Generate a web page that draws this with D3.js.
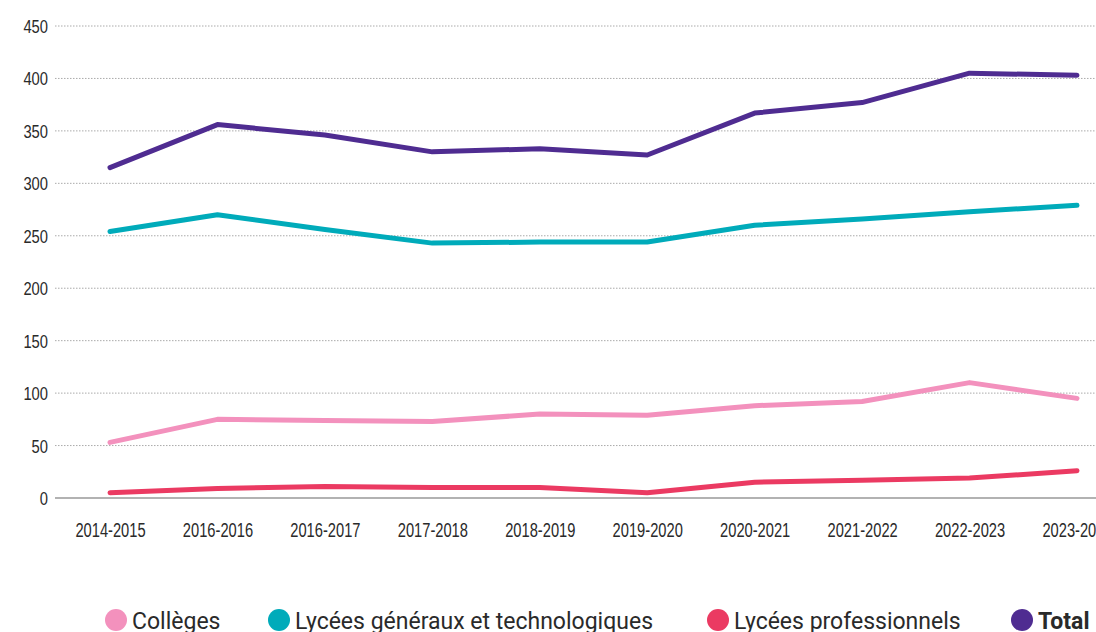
<!DOCTYPE html>
<html lang="fr">
<head>
<meta charset="UTF-8" />
<title>Effectifs</title>
<script src="https://d3js.org/d3.v7.min.js"></script>
<style>
    body { margin: 0; background: #fff; overflow: hidden; }
    svg { display: block; font-family: Roboto, "Noto Sans", sans-serif; }
    .grid line { stroke: #aaa; stroke-dasharray: 1.5 1.5; }
    .tick text { fill: #2a2a2a; }
</style>
</head>
<body>
<svg id="chart" width="1096" height="632"></svg>
<script>
    const years = ["2014-2015", "2016-2016", "2016-2017", "2017-2018", "2018-2019",
                   "2019-2020", "2020-2021", "2021-2022", "2022-2023", "2023-2024"];
    const colleges = [53, 75, 74, 73, 80, 79, 88, 92, 110, 95];
    const lyceesGT = [254, 270, 256, 243, 244, 244, 260, 266, 273, 279];
    const lyceesPro = [5, 9, 11, 10, 10, 5, 15, 17, 19, 26];
    const total = [315, 356, 346, 330, 333, 327, 367, 377, 405, 403];
    const yTicks = [0, 50, 100, 150, 200, 250, 300, 350, 400, 450];

    const series = [
        { name: "Collèges", values: colleges, color: "#f391bd" },
        { name: "Lycées généraux et technologiques", values: lyceesGT, color: "#00abba" },
        { name: "Lycées professionnels", values: lyceesPro, color: "#eb3a62" },
        { name: "Total", values: total, color: "#4f2c91", bold: true }
    ];

    const svg = d3.select("#chart");

    const x = d3.scalePoint().domain(years).range([110, 1077]);
    const y = d3.scaleLinear().domain([0, 450]).range([498, 26]);

    // gridlines
    svg.append("g").attr("class", "grid")
        .selectAll("line")
        .data(yTicks.filter(d => d > 0))
        .enter().append("line")
        .attr("x1", 55).attr("x2", 1096)
        .attr("y1", d => y(d)).attr("y2", d => y(d));

    svg.append("line")
        .attr("x1", 55).attr("x2", 1096)
        .attr("y1", y(0)).attr("y2", y(0))
        .attr("stroke", "#999").attr("stroke-width", 1.5);

    // y axis labels (condensed look)
    const yAxis = svg.append("g")
        .attr("transform", "translate(48,0)")
        .call(d3.axisLeft(y).tickValues(yTicks).tickSize(0).tickPadding(0));
    yAxis.select(".domain").remove();
    yAxis.selectAll("text")
        .attr("font-size", 18)
        .attr("dy", "0.36em")
        .attr("transform", "scale(0.82,1)");

    // x axis labels
    const xAxis = svg.append("g")
        .attr("transform", "translate(0,522)")
        .call(d3.axisBottom(x).tickSize(0).tickPadding(0));
    xAxis.select(".domain").remove();
    xAxis.selectAll("text")
        .attr("font-size", 21)
        .attr("dy", "0.71em")
        .attr("transform", "scale(0.7,1)");

    const line = d3.line()
        .x((d, i) => x(years[i]))
        .y(d => y(d));

    svg.selectAll(".series")
        .data(series)
        .enter().append("path")
        .attr("class", "series")
        .attr("d", d => line(d.values))
        .attr("fill", "none")
        .attr("stroke", d => d.color)
        .attr("stroke-width", 5)
        .attr("stroke-linecap", "round")
        .attr("stroke-linejoin", "round");

    // legend
    const legendX = [116, 279, 718, 1022];
    const legend = svg.selectAll(".legend")
        .data(series)
        .enter().append("g")
        .attr("class", "legend")
        .attr("transform", (d, i) => `translate(${legendX[i]},620)`);

    legend.append("circle")
        .attr("r", 11)
        .attr("fill", d => d.color);

    legend.append("text")
        .attr("x", 16)
        .attr("dy", "0.37em")
        .attr("font-size", 23)
        .attr("fill", "#2a2a2a")
        .attr("font-weight", d => d.bold ? "bold" : "normal")
        .text(d => d.name);
</script>
</body>
</html>
